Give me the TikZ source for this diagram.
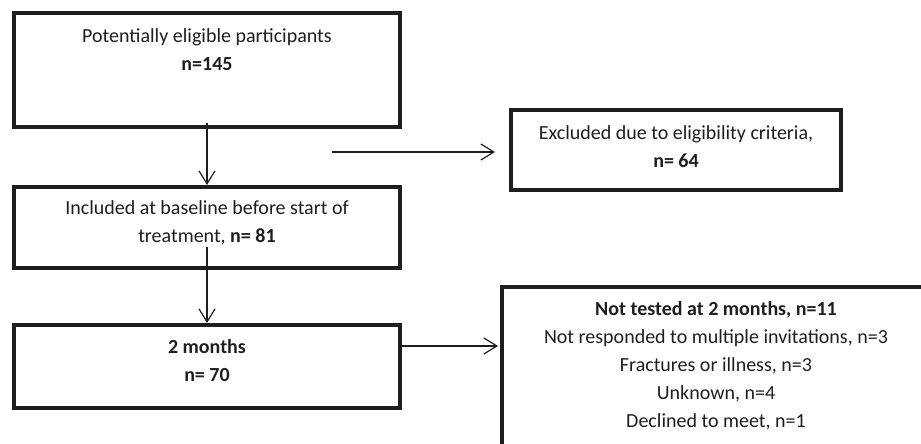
\documentclass[tikz,border=0pt]{standalone}
\usepackage{fontspec}
\setmainfont{Carlito}
\usetikzlibrary{arrows.meta}
\definecolor{ink}{HTML}{1E1E1E}
\begin{document}
\begin{tikzpicture}[x=1pt,y=-1pt,
  box/.style={draw=ink,line width=4pt,rectangle,inner sep=0pt,
              minimum width=#1},
  txt/.style={align=center,inner sep=0pt,text=ink,
              font=\fontsize{20}{28}\selectfont},
  arr/.style={draw=ink,line width=1.3pt,
              -{Straight Barb[length=13pt,width=16pt,line width=1.2pt]}}]
\useasboundingbox (0,0) rectangle (921,444);
\clip (0,0) rectangle (921,444);

% boxes
\node[box=386pt,minimum height=114pt] (b1) at (207,70) {};
\node[box=386pt,minimum height=81pt]  (b2) at (207,227.5) {};
\node[box=386pt,minimum height=83pt]  (b3) at (207,366.5) {};
\node[box=330pt,minimum height=80pt]  (ex) at (676,150) {};
\node[box=428pt,minimum height=173pt] (nt) at (716,373.5) {};

% box texts
\node[txt] (t1) at (207,50) {Potentially eligible participants\\\textbf{n=145}};
\node[txt] (t2) at (207,223) {Included at baseline before start of\\treatment, \textbf{n= 81}};
\node[txt] (t3) at (207,361) {\textbf{2 months}\\\textbf{n= 70}};
\node[txt] (tx) at (676,147) {Excluded due to eligibility criteria,\\\textbf{n= 64}};
\node[txt] (tn) at (716,366) {\textbf{Not tested at 2 months, n=11}\\
  Not responded to multiple invitations, n=3\\
  Fractures or illness, n=3\\
  Unknown, n=4\\
  Declined to meet, n=1};

% connectors
\coordinate (xs) at (332,152);
\coordinate (xe) at (495,152);
\coordinate (c2) at (207,247);
\coordinate (c3) at (0,346);

\draw[arr] ([yshift=6pt]b1.south) -- (b2.north);
\draw[arr] (xs) -- (xe);
\draw[arr] (c2) -- (b3.north);
\draw[arr] (b3.east |- c3) -- ([xshift=-2pt]nt.west |- c3);
\end{tikzpicture}
\end{document}
